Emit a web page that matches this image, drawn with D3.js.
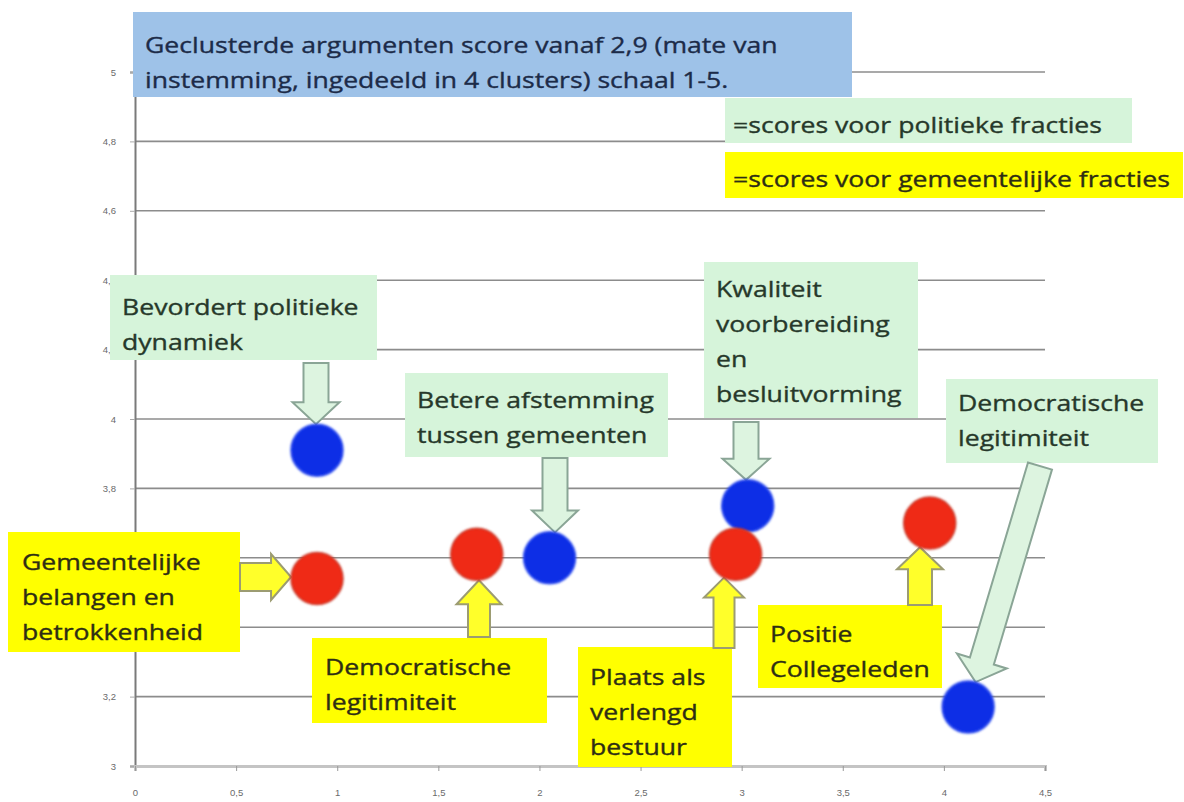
<!DOCTYPE html>
<html>
<head>
<meta charset="utf-8">
<script src="https://cdn.jsdelivr.net/npm/d3@7"></script>
<style>
  body { margin: 0; background: #fff; }
  svg { display: block; font-family: "Open Sans", sans-serif; }
</style>
</head>
<body>
<svg id="chart"></svg>
<script>
// ---- data ----
const politiekLabels = [
    ["Bevordert politieke", "dynamiek"],
    ["Betere afstemming", "tussen gemeenten"],
    ["Kwaliteit", "voorbereiding", "en", "besluitvorming"],
    ["Democratische", "legitimiteit"]
];
const politiekX = [0.9, 2.05, 3.03, 4.12];
const politiekY = [3.91, 3.60, 3.75, 3.17];

const gemeenteLabels = [
    ["Gemeentelijke", "belangen en", "betrokkenheid"],
    ["Democratische", "legitimiteit"],
    ["Plaats als", "verlengd", "bestuur"],
    ["Positie", "Collegeleden"]
];
const gemeenteX = [0.9, 1.69, 2.97, 3.93];
const gemeenteY = [3.54, 3.61, 3.61, 3.70];

const xTicks = [0, 0.5, 1, 1.5, 2, 2.5, 3, 3.5, 4, 4.5];
const yTicks = [3, 3.2, 3.4, 3.6, 3.8, 4, 4.2, 4.4, 4.6, 4.8, 5];
// 3,4 and 3,6 sit fully under the yellow call-out in the source
const yHiddenLabels = [3.4, 3.6];

const titleLines = ["Geclusterde argumenten score vanaf 2,9 (mate van",
                    "instemming, ingedeeld in 4 clusters) schaal 1-5."];
const legendLabels = ["=scores voor politieke fracties", "=scores voor gemeentelijke fracties"];

// ---- layout ----
const width = 1184, height = 802;
const plot = { left: 135, right: 1045, top: 72, bottom: 766 };
const radius = 26;
const textScaleX = 1.21;   // the source text is stretched sideways
const lineHeight = 35;

const colors = {
    politiek: "#0b2fe6", politiekEdge: "#3050f0",
    gemeente: "#ef2b14", gemeenteEdge: "#c83a2c",
    greenBox: "#d6f4da", greenText: "#26382a", greenArrow: "#ddf4e0", greenArrowStroke: "#8aa596",
    yellowBox: "#ffff00", yellowText: "#2e2e14", yellowArrow: "#ffff2a", yellowArrowStroke: "#9c9c72",
    titleBox: "#9ec2e8", titleText: "#1c2b48",
    grid: "#8c8c8c"
};

// boxes, text anchors and arrows of the call-outs (pixels)
const politiekLayout = [
    { box: [110, 275, 267, 85], text: [122, 315], from: [316, 363], dir: [0, 1], sw: 25, hw: 47, hl: 22 },
    { box: [405, 373, 263, 84], text: [417, 408], from: [555, 458], dir: [0, 1], sw: 25, hw: 46, hl: 22 },
    { box: [704, 262, 214, 156], text: [716, 297], from: [746, 422], dir: [0, 1], sw: 25, hw: 47, hl: 21 },
    { box: [946, 379, 212, 84], text: [958, 411], from: [1040, 466], dir: null, sw: 25, hw: 52, hl: 22 }
];
const gemeenteLayout = [
    { box: [8, 532, 232, 120], text: [22, 570], from: [240, 577], dir: [1, 0], sw: 28, hw: 46, hl: 20 },
    { box: [312, 638, 235, 85], text: [325, 675], from: [479, 637], dir: [0, -1], sw: 22, hw: 45, hl: 24 },
    { box: [578, 647, 154, 120], text: [590, 685], from: [724, 648], dir: [0, -1], sw: 21, hw: 40, hl: 20 },
    { box: [758, 605, 184, 83], text: [770, 642], from: [920, 605], dir: [0, -1], sw: 24, hw: 46, hl: 22 }
];

const svg = d3.select("#chart")
    .attr("width", width)
    .attr("height", height);

// soft edge for the dots
svg.append("defs").append("filter")
    .attr("id", "soft")
    .append("feGaussianBlur")
    .attr("stdDeviation", 0.8);

// scales
const x = d3.scaleLinear().domain([0, 4.5]).range([plot.left, plot.right]);
const y = d3.scaleLinear().domain([3, 5]).range([plot.bottom, plot.top]);

const nl = d3.formatLocale({ decimal: ",", thousands: ".", grouping: [3], currency: ["€", ""] });
const fmt = nl.format("~g");

// gridlines
svg.append("g")
    .selectAll("line")
    .data(yTicks.filter(d => d > 3))
    .join("line")
    .attr("x1", x(0))
    .attr("x2", x(4.5))
    .attr("y1", d => y(d))
    .attr("y2", d => y(d))
    .attr("stroke", colors.grid)
    .attr("stroke-width", 1.6);

// y axis
const yAxis = svg.append("g")
    .attr("transform", `translate(${plot.left},0)`)
    .call(d3.axisLeft(y).tickValues(yTicks)
        .tickFormat(d => yHiddenLabels.includes(d) ? "" : fmt(d))
        .tickSize(5).tickPadding(14));
yAxis.select(".domain").attr("stroke", "#7a7a7a").attr("stroke-width", 2);
yAxis.selectAll(".tick line").attr("stroke", "#aaa");
yAxis.selectAll("text").attr("fill", "#6a6a6a").style("font-size", "9.5px");

// x axis
const xAxis = svg.append("g")
    .attr("transform", `translate(0,${plot.bottom})`)
    .call(d3.axisBottom(x).tickValues(xTicks).tickFormat(fmt).tickSize(5).tickPadding(18));
xAxis.select(".domain").attr("stroke", "#c4c4c4").attr("stroke-width", 3);
xAxis.selectAll(".tick line").attr("stroke", "#999");
xAxis.selectAll("text").attr("fill", "#6a6a6a").style("font-size", "9.5px");

// helpers
function drawTextBlock(g, lines, tx, ty, fill, size) {
    const t = g.append("text")
        .attr("transform", `translate(${tx},${ty}) scale(${textScaleX},1)`)
        .attr("fill", fill)
        .attr("stroke", fill)
        .attr("stroke-width", 0.35)
        .style("font-size", size + "px");
    t.selectAll("tspan")
        .data(lines)
        .join("tspan")
        .attr("x", 0)
        .attr("y", (d, i) => i * lineHeight)
        .text(d => d);
}

// where a ray from p lands on the dot edge
function tipOnCircle(p, dir, c) {
    let d = dir;
    if (!d) {
        const len = Math.hypot(c[0] - p[0], c[1] - p[1]);
        d = [(c[0] - p[0]) / len, (c[1] - p[1]) / len];
    }
    const f = [p[0] - c[0], p[1] - c[1]];
    const b = f[0] * d[0] + f[1] * d[1];
    const cc = f[0] * f[0] + f[1] * f[1] - radius * radius;
    const disc = b * b - cc;
    const t = disc >= 0 ? -b - Math.sqrt(disc) : -b;
    return [p[0] + t * d[0], p[1] + t * d[1]];
}

function arrowPath(from, tip, sw, hw, hl) {
    const len = Math.hypot(tip[0] - from[0], tip[1] - from[1]);
    const u = [(tip[0] - from[0]) / len, (tip[1] - from[1]) / len];
    const n = [-u[1], u[0]];
    const base = [tip[0] - u[0] * hl, tip[1] - u[1] * hl];
    const pt = (p, k) => [p[0] + n[0] * k, p[1] + n[1] * k];
    const pts = [pt(from, sw / 2), pt(base, sw / 2), pt(base, hw / 2), tip,
                 pt(base, -hw / 2), pt(base, -sw / 2), pt(from, -sw / 2)];
    return d3.line()(pts) + "Z";
}

// title box
const titleG = svg.append("g");
titleG.append("rect")
    .attr("x", 133).attr("y", 12).attr("width", 719).attr("height", 85)
    .attr("fill", colors.titleBox);
drawTextBlock(titleG, titleLines, 145, 53, colors.titleText, 22);

// legend boxes
const legendG = svg.append("g");
const legendRects = [[725, 98, 407, 45], [725, 152, 458, 46]];
legendLabels.forEach((lab, i) => {
    const r = legendRects[i];
    legendG.append("rect")
        .attr("x", r[0]).attr("y", r[1]).attr("width", r[2]).attr("height", r[3])
        .attr("fill", i === 0 ? colors.greenBox : colors.yellowBox);
    drawTextBlock(legendG, [lab], 733, r[1] + 35, i === 0 ? colors.greenText : colors.yellowText, 22);
});

// series
const series = [
    { xs: politiekX, ys: politiekY, labels: politiekLabels, layout: politiekLayout,
      fill: colors.politiek, edge: colors.politiekEdge,
      box: colors.greenBox, text: colors.greenText, arrow: colors.greenArrow, arrowStroke: colors.greenArrowStroke },
    { xs: gemeenteX, ys: gemeenteY, labels: gemeenteLabels, layout: gemeenteLayout,
      fill: colors.gemeente, edge: colors.gemeenteEdge,
      box: colors.yellowBox, text: colors.yellowText, arrow: colors.yellowArrow, arrowStroke: colors.yellowArrowStroke }
];

const boxG = svg.append("g");
const arrowG = svg.append("g");
const dotG = svg.append("g");

series.forEach(s => {
    s.labels.forEach((lines, i) => {
        const L = s.layout[i];
        boxG.append("rect")
            .attr("x", L.box[0]).attr("y", L.box[1])
            .attr("width", L.box[2]).attr("height", L.box[3])
            .attr("fill", s.box);
        drawTextBlock(boxG, lines, L.text[0], L.text[1], s.text, 22);

        const c = [x(s.xs[i]), y(s.ys[i])];
        const tip = tipOnCircle(L.from, L.dir, c);
        arrowG.append("path")
            .attr("d", arrowPath(L.from, tip, L.sw, L.hw, L.hl))
            .attr("fill", s.arrow)
            .attr("stroke", s.arrowStroke)
            .attr("stroke-width", 2)
            .attr("stroke-linejoin", "miter");
    });

    dotG.append("g")
        .selectAll("circle")
        .data(s.xs.map((v, i) => [v, s.ys[i]]))
        .join("circle")
        .attr("cx", d => x(d[0]))
        .attr("cy", d => y(d[1]))
        .attr("r", radius)
        .attr("fill", s.fill)
        .attr("stroke", s.edge)
        .attr("stroke-width", 1.5)
        .attr("filter", "url(#soft)");
});
</script>
</body>
</html>
